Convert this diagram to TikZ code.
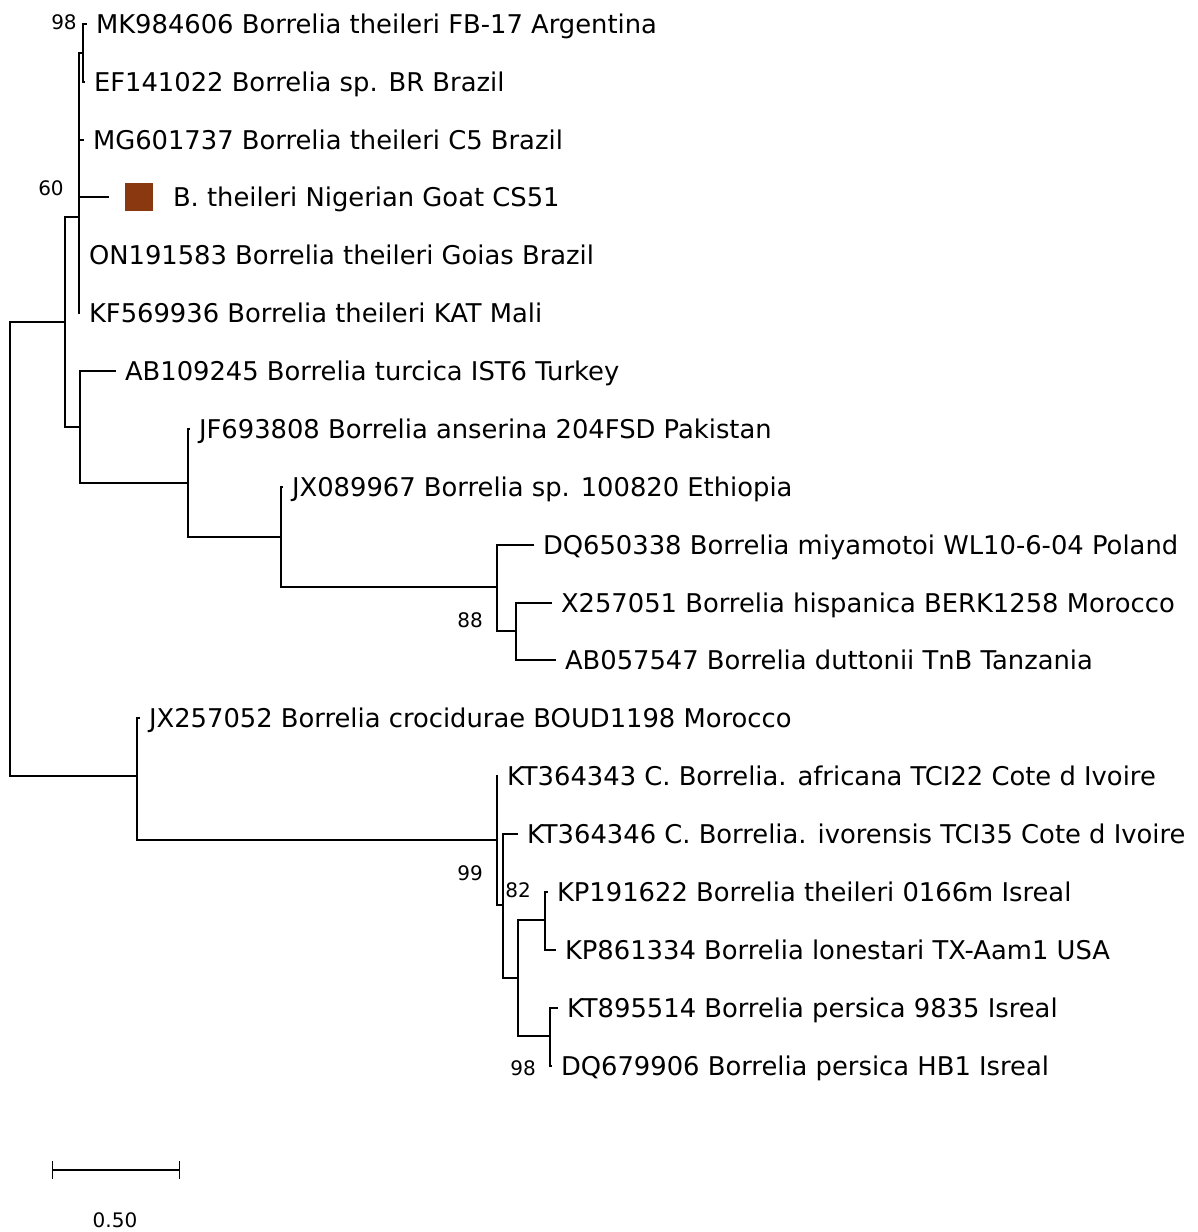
\documentclass[tikz,border=0pt]{standalone}
\usepackage{fontspec}
\setmainfont{DejaVu Sans}
\usetikzlibrary{arrows.meta,positioning}
\definecolor{goatbrown}{RGB}{138,56,16}

\begin{document}
\begin{tikzpicture}[
    x=1pt, y=-1pt,
    branch/.style={line width=1.4pt, line cap=rect},
    leaf/.style={
      anchor=west, inner sep=0pt, outer xsep=10pt,
      text height=18.8pt, text depth=0pt,
      font=\fontsize{25.8}{30}\selectfont
    },
    support/.style={inner sep=0pt, font=\fontsize{20}{24}\selectfont},
    marker/.style={fill=goatbrown, minimum size=28pt, inner sep=0pt},
    scalebar/.style={line width=1.4pt, {Bar[width=18pt]}-{Bar[width=18pt]}}
  ]
    \useasboundingbox (0,0) rectangle (1198,1232);

    % internal nodes
    \coordinate (Root) at (10,548);
    \coordinate (UpperClade) at (65,322);
    \coordinate (TheileriClade) at (79,217);
    \coordinate (TopPair) at (83,53);
    \coordinate (TurcicaClade) at (80,427);
    \coordinate (AnserinaClade) at (188,483);
    \coordinate (EthiopiaClade) at (281,537);
    \coordinate (RelapsingClade) at (497,587);
    \coordinate (HispanicaClade) at (516,631);
    \coordinate (LowerClade) at (137,776);
    \coordinate (AfricanaClade) at (497,840);
    \coordinate (IvorensisClade) at (503,905);
    \coordinate (PersicaGroup) at (518,978);
    \coordinate (LonestariClade) at (545,920);
    \coordinate (PersicaClade) at (550,1036);

    % tips
    \node[leaf] (MK984606) at (86,24) {MK984606 Borrelia theileri FB-17 Argentina};
    \node[leaf] (EF141022) at (84,82) {EF141022 Borrelia sp. BR Brazil};
    \node[leaf] (MG601737) at (83,140) {MG601737 Borrelia theileri C5 Brazil};
    \node[marker, anchor=west, outer xsep=17pt] (GoatMark) at (108,197) {};
    \node[leaf] (CS51) at (163,197) {B. theileri Nigerian Goat CS51};
    \node[leaf] (ON191583) at (79,255) {ON191583 Borrelia theileri Goias Brazil};
    \node[leaf] (KF569936) at (79,313) {KF569936 Borrelia theileri KAT Mali};
    \node[leaf] (AB109245) at (115,371) {AB109245 Borrelia turcica IST6 Turkey};
    \node[leaf] (JF693808) at (189,429) {JF693808 Borrelia anserina 204FSD Pakistan};
    \node[leaf] (JX089967) at (282,487) {JX089967 Borrelia sp. 100820 Ethiopia};
    \node[leaf] (DQ650338) at (533,545) {DQ650338 Borrelia miyamotoi WL10-6-04 Poland};
    \node[leaf] (X257051) at (551,603) {X257051 Borrelia hispanica BERK1258 Morocco};
    \node[leaf] (AB057547) at (555,660) {AB057547 Borrelia duttonii TnB Tanzania};
    \node[leaf] (JX257052) at (139,718) {JX257052 Borrelia crocidurae BOUD1198 Morocco};
    \node[leaf] (KT364343) at (497,776) {KT364343 C. Borrelia. africana TCI22 Cote d Ivoire};
    \node[leaf] (KT364346) at (517,834) {KT364346 C. Borrelia. ivorensis TCI35 Cote d Ivoire};
    \node[leaf] (KP191622) at (547,892) {KP191622 Borrelia theileri 0166m Isreal};
    \node[leaf] (KP861334) at (555,950) {KP861334 Borrelia lonestari TX-Aam1 USA};
    \node[leaf] (KT895514) at (557,1008) {KT895514 Borrelia persica 9835 Isreal};
    \node[leaf] (DQ679906) at (551,1066) {DQ679906 Borrelia persica HB1 Isreal};

    % branches
    \draw[branch] (Root) |- (UpperClade);
    \draw[branch] (Root) |- (LowerClade);
    \draw[branch] (UpperClade) |- (TheileriClade);
    \draw[branch] (UpperClade) |- (TurcicaClade);
    \draw[branch] (TheileriClade) |- (TopPair);
    \draw[branch] (TopPair) |- (MK984606.west);
    \draw[branch] (TopPair) |- (EF141022.west);
    \draw[branch] (TheileriClade) |- (MG601737.west);
    \draw[branch] (TheileriClade) |- (GoatMark.west);
    \draw[branch] (TheileriClade) |- (ON191583.west);
    \draw[branch] (TheileriClade) |- (KF569936.west);
    \draw[branch] (TurcicaClade) |- (AB109245.west);
    \draw[branch] (TurcicaClade) |- (AnserinaClade);
    \draw[branch] (AnserinaClade) |- (JF693808.west);
    \draw[branch] (AnserinaClade) |- (EthiopiaClade);
    \draw[branch] (EthiopiaClade) |- (JX089967.west);
    \draw[branch] (EthiopiaClade) |- (RelapsingClade);
    \draw[branch] (RelapsingClade) |- (DQ650338.west);
    \draw[branch] (RelapsingClade) |- (HispanicaClade);
    \draw[branch] (HispanicaClade) |- (X257051.west);
    \draw[branch] (HispanicaClade) |- (AB057547.west);
    \draw[branch] (LowerClade) |- (JX257052.west);
    \draw[branch] (LowerClade) |- (AfricanaClade);
    \draw[branch] (AfricanaClade) |- (KT364343.west);
    \draw[branch] (AfricanaClade) |- (IvorensisClade);
    \draw[branch] (IvorensisClade) |- (KT364346.west);
    \draw[branch] (IvorensisClade) |- (PersicaGroup);
    \draw[branch] (PersicaGroup) |- (LonestariClade);
    \draw[branch] (PersicaGroup) |- (PersicaClade);
    \draw[branch] (LonestariClade) |- (KP191622.west);
    \draw[branch] (LonestariClade) |- (KP861334.west);
    \draw[branch] (PersicaClade) |- (KT895514.west);
    \draw[branch] (PersicaClade) |- (DQ679906.west);

    % bootstrap values
    \node[support] (BootTop) at (64,22) {98};
    \node[support] (BootTheileri) at (51,188) {60};
    \node[support] (BootRelapsing) at (470,620) {88};
    \node[support] (BootAfricana) at (470,873) {99};
    \node[support] (BootIvorensis) at (518,890) {82};
    \node[support] (BootPersica) at (523,1068) {98};

    % scale
    \coordinate (BarLeft) at (52,1170);
    \coordinate (BarRight) at (180,1170);
    \draw[scalebar] (BarLeft) -- (BarRight);
    \node[support] (BarLabel) at (115,1220) {0.50};
  \end{tikzpicture}
\end{document}
